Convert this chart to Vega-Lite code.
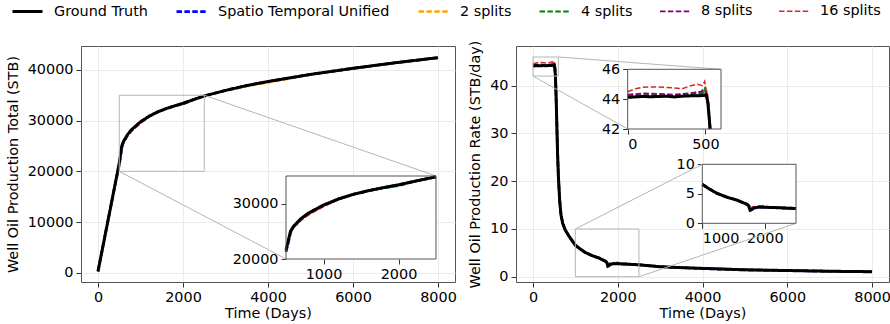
{
"$schema": "https://vega.github.io/schema/vega-lite/v6.json",
"padding": {"left": 4, "top": -5, "right": 0, "bottom": 0},
"config": {
  "font": "DejaVu Sans",
  "view": {"stroke": "#555555", "strokeWidth": 1},
  "axis": {"labelFont": "DejaVu Sans", "titleFont": "DejaVu Sans", "labelFontSize": 14.4, "titleFontSize": 14.4, "titleFontWeight": "normal", "labelColor": "#000000", "titleColor": "#000000", "tickColor": "#333333", "tickSize": 5, "domain": false, "gridColor": "#ebebeb", "labelPadding": 3, "titlePadding": 7},
  "axisX": {"titlePadding": 3},
  "legend": {"orient": "none", "legendX": -70, "legendY": -51, "direction": "horizontal", "labelFont": "DejaVu Sans", "labelFontSize": 14.4, "labelColor": "#000000", "symbolSize": 900, "labelOffset": 10, "columnPadding": 23, "padding": 0, "labelLimit": 400}
},
"datasets": {
  "cum": [
    {"series": "Ground Truth", "day": 0, "value": 300}, {"series": "Ground Truth", "day": 100, "value": 4560}, {"series": "Ground Truth", "day": 200, "value": 8820}, {"series": "Ground Truth", "day": 300, "value": 13080}, {"series": "Ground Truth", "day": 400, "value": 17340}, {"series": "Ground Truth", "day": 500, "value": 21600}, {"series": "Ground Truth", "day": 530, "value": 23300}, {"series": "Ground Truth", "day": 560, "value": 25000}, {"series": "Ground Truth", "day": 600, "value": 25900}, {"series": "Ground Truth", "day": 700, "value": 27300}, {"series": "Ground Truth", "day": 800, "value": 28300}, {"series": "Ground Truth", "day": 1000, "value": 29750}, {"series": "Ground Truth", "day": 1200, "value": 30850}, {"series": "Ground Truth", "day": 1400, "value": 31700}, {"series": "Ground Truth", "day": 1600, "value": 32350}, {"series": "Ground Truth", "day": 1800, "value": 32900}, {"series": "Ground Truth", "day": 2000, "value": 33400}, {"series": "Ground Truth", "day": 2250, "value": 34150}, {"series": "Ground Truth", "day": 2500, "value": 34850}, {"series": "Ground Truth", "day": 3000, "value": 35950}, {"series": "Ground Truth", "day": 3500, "value": 36900}, {"series": "Ground Truth", "day": 4000, "value": 37700}, {"series": "Ground Truth", "day": 5000, "value": 39100}, {"series": "Ground Truth", "day": 6000, "value": 40300}, {"series": "Ground Truth", "day": 7000, "value": 41400}, {"series": "Ground Truth", "day": 8000, "value": 42400},
    {"series": "Spatio Temporal Unified", "day": 0, "value": 300}, {"series": "Spatio Temporal Unified", "day": 100, "value": 4540}, {"series": "Spatio Temporal Unified", "day": 200, "value": 8790}, {"series": "Spatio Temporal Unified", "day": 300, "value": 13040}, {"series": "Spatio Temporal Unified", "day": 400, "value": 17280}, {"series": "Spatio Temporal Unified", "day": 500, "value": 21300}, {"series": "Spatio Temporal Unified", "day": 530, "value": 22900}, {"series": "Spatio Temporal Unified", "day": 560, "value": 24700}, {"series": "Spatio Temporal Unified", "day": 600, "value": 25800}, {"series": "Spatio Temporal Unified", "day": 700, "value": 27250}, {"series": "Spatio Temporal Unified", "day": 800, "value": 28250}, {"series": "Spatio Temporal Unified", "day": 1000, "value": 29720}, {"series": "Spatio Temporal Unified", "day": 1200, "value": 30830}, {"series": "Spatio Temporal Unified", "day": 1400, "value": 31690}, {"series": "Spatio Temporal Unified", "day": 1600, "value": 32340}, {"series": "Spatio Temporal Unified", "day": 1800, "value": 32900}, {"series": "Spatio Temporal Unified", "day": 2000, "value": 33400}, {"series": "Spatio Temporal Unified", "day": 2250, "value": 34150}, {"series": "Spatio Temporal Unified", "day": 2500, "value": 34850}, {"series": "Spatio Temporal Unified", "day": 3000, "value": 35950}, {"series": "Spatio Temporal Unified", "day": 3500, "value": 36900}, {"series": "Spatio Temporal Unified", "day": 4000, "value": 37700}, {"series": "Spatio Temporal Unified", "day": 5000, "value": 39100}, {"series": "Spatio Temporal Unified", "day": 6000, "value": 40300}, {"series": "Spatio Temporal Unified", "day": 7000, "value": 41400}, {"series": "Spatio Temporal Unified", "day": 8000, "value": 42400},
    {"series": "2 splits", "day": 0, "value": 300}, {"series": "2 splits", "day": 100, "value": 4570}, {"series": "2 splits", "day": 200, "value": 8840}, {"series": "2 splits", "day": 300, "value": 13100}, {"series": "2 splits", "day": 400, "value": 17380}, {"series": "2 splits", "day": 500, "value": 21650}, {"series": "2 splits", "day": 530, "value": 23350}, {"series": "2 splits", "day": 560, "value": 25050}, {"series": "2 splits", "day": 600, "value": 25950}, {"series": "2 splits", "day": 700, "value": 27300}, {"series": "2 splits", "day": 800, "value": 28300}, {"series": "2 splits", "day": 1000, "value": 29750}, {"series": "2 splits", "day": 1200, "value": 30850}, {"series": "2 splits", "day": 1400, "value": 31700}, {"series": "2 splits", "day": 1600, "value": 32350}, {"series": "2 splits", "day": 1800, "value": 32900}, {"series": "2 splits", "day": 2000, "value": 33400}, {"series": "2 splits", "day": 2250, "value": 34150}, {"series": "2 splits", "day": 2500, "value": 34850}, {"series": "2 splits", "day": 3000, "value": 35900}, {"series": "2 splits", "day": 3500, "value": 36800}, {"series": "2 splits", "day": 4000, "value": 37500}, {"series": "2 splits", "day": 5000, "value": 39050}, {"series": "2 splits", "day": 6000, "value": 40300}, {"series": "2 splits", "day": 7000, "value": 41400}, {"series": "2 splits", "day": 8000, "value": 42400},
    {"series": "4 splits", "day": 0, "value": 300}, {"series": "4 splits", "day": 100, "value": 4560}, {"series": "4 splits", "day": 200, "value": 8820}, {"series": "4 splits", "day": 300, "value": 13080}, {"series": "4 splits", "day": 400, "value": 17340}, {"series": "4 splits", "day": 500, "value": 21600}, {"series": "4 splits", "day": 530, "value": 23300}, {"series": "4 splits", "day": 560, "value": 25000}, {"series": "4 splits", "day": 600, "value": 25900}, {"series": "4 splits", "day": 700, "value": 27300}, {"series": "4 splits", "day": 800, "value": 28300}, {"series": "4 splits", "day": 1000, "value": 29750}, {"series": "4 splits", "day": 1200, "value": 30850}, {"series": "4 splits", "day": 1400, "value": 31700}, {"series": "4 splits", "day": 1600, "value": 32300}, {"series": "4 splits", "day": 1800, "value": 32800}, {"series": "4 splits", "day": 2000, "value": 33200}, {"series": "4 splits", "day": 2250, "value": 34100}, {"series": "4 splits", "day": 2500, "value": 34850}, {"series": "4 splits", "day": 3000, "value": 35950}, {"series": "4 splits", "day": 3500, "value": 36900}, {"series": "4 splits", "day": 4000, "value": 37700}, {"series": "4 splits", "day": 5000, "value": 39100}, {"series": "4 splits", "day": 6000, "value": 40300}, {"series": "4 splits", "day": 7000, "value": 41400}, {"series": "4 splits", "day": 8000, "value": 42400},
    {"series": "8 splits", "day": 0, "value": 300}, {"series": "8 splits", "day": 100, "value": 4560}, {"series": "8 splits", "day": 200, "value": 8820}, {"series": "8 splits", "day": 300, "value": 13080}, {"series": "8 splits", "day": 400, "value": 17340}, {"series": "8 splits", "day": 500, "value": 21600}, {"series": "8 splits", "day": 530, "value": 23300}, {"series": "8 splits", "day": 560, "value": 24900}, {"series": "8 splits", "day": 600, "value": 25800}, {"series": "8 splits", "day": 700, "value": 27150}, {"series": "8 splits", "day": 800, "value": 28100}, {"series": "8 splits", "day": 1000, "value": 29600}, {"series": "8 splits", "day": 1200, "value": 30800}, {"series": "8 splits", "day": 1400, "value": 31700}, {"series": "8 splits", "day": 1600, "value": 32350}, {"series": "8 splits", "day": 1800, "value": 32900}, {"series": "8 splits", "day": 2000, "value": 33400}, {"series": "8 splits", "day": 2250, "value": 34150}, {"series": "8 splits", "day": 2500, "value": 34850}, {"series": "8 splits", "day": 3000, "value": 35950}, {"series": "8 splits", "day": 3500, "value": 36900}, {"series": "8 splits", "day": 4000, "value": 37700}, {"series": "8 splits", "day": 5000, "value": 39100}, {"series": "8 splits", "day": 6000, "value": 40300}, {"series": "8 splits", "day": 7000, "value": 41400}, {"series": "8 splits", "day": 8000, "value": 42400},
    {"series": "16 splits", "day": 0, "value": 300}, {"series": "16 splits", "day": 100, "value": 4580}, {"series": "16 splits", "day": 200, "value": 8860}, {"series": "16 splits", "day": 300, "value": 13140}, {"series": "16 splits", "day": 400, "value": 17420}, {"series": "16 splits", "day": 500, "value": 21700}, {"series": "16 splits", "day": 530, "value": 23300}, {"series": "16 splits", "day": 560, "value": 24800}, {"series": "16 splits", "day": 600, "value": 25600}, {"series": "16 splits", "day": 700, "value": 26950}, {"series": "16 splits", "day": 800, "value": 27950}, {"series": "16 splits", "day": 1000, "value": 29450}, {"series": "16 splits", "day": 1200, "value": 30700}, {"series": "16 splits", "day": 1400, "value": 31650}, {"series": "16 splits", "day": 1600, "value": 32350}, {"series": "16 splits", "day": 1800, "value": 32950}, {"series": "16 splits", "day": 2000, "value": 33450}, {"series": "16 splits", "day": 2250, "value": 34250}, {"series": "16 splits", "day": 2500, "value": 34900}, {"series": "16 splits", "day": 3000, "value": 36000}, {"series": "16 splits", "day": 3500, "value": 36950}, {"series": "16 splits", "day": 4000, "value": 37750}, {"series": "16 splits", "day": 5000, "value": 39150}, {"series": "16 splits", "day": 6000, "value": 40350}, {"series": "16 splits", "day": 7000, "value": 41450}, {"series": "16 splits", "day": 8000, "value": 42450}
  ],
  "rate": [
    {"series": "Ground Truth", "day": 0, "value": 44.12}, {"series": "Ground Truth", "day": 50, "value": 44.15}, {"series": "Ground Truth", "day": 100, "value": 44.18}, {"series": "Ground Truth", "day": 150, "value": 44.16}, {"series": "Ground Truth", "day": 200, "value": 44.18}, {"series": "Ground Truth", "day": 250, "value": 44.2}, {"series": "Ground Truth", "day": 300, "value": 44.15}, {"series": "Ground Truth", "day": 350, "value": 44.2}, {"series": "Ground Truth", "day": 400, "value": 44.22}, {"series": "Ground Truth", "day": 450, "value": 44.22}, {"series": "Ground Truth", "day": 490, "value": 44.25}, {"series": "Ground Truth", "day": 505, "value": 44.3}, {"series": "Ground Truth", "day": 515, "value": 43.8}, {"series": "Ground Truth", "day": 525, "value": 42.6}, {"series": "Ground Truth", "day": 530, "value": 42.0}, {"series": "Ground Truth", "day": 545, "value": 38}, {"series": "Ground Truth", "day": 560, "value": 33}, {"series": "Ground Truth", "day": 580, "value": 26}, {"series": "Ground Truth", "day": 600, "value": 21}, {"series": "Ground Truth", "day": 630, "value": 16}, {"series": "Ground Truth", "day": 660, "value": 13}, {"series": "Ground Truth", "day": 700, "value": 11.2}, {"series": "Ground Truth", "day": 760, "value": 9.8}, {"series": "Ground Truth", "day": 850, "value": 8.5}, {"series": "Ground Truth", "day": 1000, "value": 6.6}, {"series": "Ground Truth", "day": 1100, "value": 5.9}, {"series": "Ground Truth", "day": 1230, "value": 5.1}, {"series": "Ground Truth", "day": 1400, "value": 4.4}, {"series": "Ground Truth", "day": 1550, "value": 3.95}, {"series": "Ground Truth", "day": 1650, "value": 3.5}, {"series": "Ground Truth", "day": 1720, "value": 3.2}, {"series": "Ground Truth", "day": 1745, "value": 2.9}, {"series": "Ground Truth", "day": 1765, "value": 2.2}, {"series": "Ground Truth", "day": 1790, "value": 2.3}, {"series": "Ground Truth", "day": 1820, "value": 2.55}, {"series": "Ground Truth", "day": 1900, "value": 2.75}, {"series": "Ground Truth", "day": 2000, "value": 2.72}, {"series": "Ground Truth", "day": 2200, "value": 2.65}, {"series": "Ground Truth", "day": 2500, "value": 2.5}, {"series": "Ground Truth", "day": 3000, "value": 2.1}, {"series": "Ground Truth", "day": 3500, "value": 1.9}, {"series": "Ground Truth", "day": 4000, "value": 1.75}, {"series": "Ground Truth", "day": 5000, "value": 1.45}, {"series": "Ground Truth", "day": 6000, "value": 1.3}, {"series": "Ground Truth", "day": 7000, "value": 1.15}, {"series": "Ground Truth", "day": 8000, "value": 1.05},
    {"series": "Spatio Temporal Unified", "day": 0, "value": 44.2}, {"series": "Spatio Temporal Unified", "day": 100, "value": 44.22}, {"series": "Spatio Temporal Unified", "day": 200, "value": 44.2}, {"series": "Spatio Temporal Unified", "day": 300, "value": 44.2}, {"series": "Spatio Temporal Unified", "day": 400, "value": 44.25}, {"series": "Spatio Temporal Unified", "day": 470, "value": 44.35}, {"series": "Spatio Temporal Unified", "day": 490, "value": 44.5}, {"series": "Spatio Temporal Unified", "day": 505, "value": 44.3}, {"series": "Spatio Temporal Unified", "day": 518, "value": 43.7}, {"series": "Spatio Temporal Unified", "day": 530, "value": 42.0}, {"series": "Spatio Temporal Unified", "day": 545, "value": 38.2}, {"series": "Spatio Temporal Unified", "day": 560, "value": 33.2}, {"series": "Spatio Temporal Unified", "day": 580, "value": 26.2}, {"series": "Spatio Temporal Unified", "day": 600, "value": 21.2}, {"series": "Spatio Temporal Unified", "day": 630, "value": 16.1}, {"series": "Spatio Temporal Unified", "day": 660, "value": 13.1}, {"series": "Spatio Temporal Unified", "day": 700, "value": 11.3}, {"series": "Spatio Temporal Unified", "day": 760, "value": 9.9}, {"series": "Spatio Temporal Unified", "day": 850, "value": 8.5}, {"series": "Spatio Temporal Unified", "day": 1000, "value": 6.6}, {"series": "Spatio Temporal Unified", "day": 1100, "value": 5.9}, {"series": "Spatio Temporal Unified", "day": 1230, "value": 5.1}, {"series": "Spatio Temporal Unified", "day": 1400, "value": 4.4}, {"series": "Spatio Temporal Unified", "day": 1550, "value": 3.95}, {"series": "Spatio Temporal Unified", "day": 1650, "value": 3.5}, {"series": "Spatio Temporal Unified", "day": 1720, "value": 3.2}, {"series": "Spatio Temporal Unified", "day": 1745, "value": 2.95}, {"series": "Spatio Temporal Unified", "day": 1765, "value": 2.3}, {"series": "Spatio Temporal Unified", "day": 1790, "value": 2.35}, {"series": "Spatio Temporal Unified", "day": 1820, "value": 2.6}, {"series": "Spatio Temporal Unified", "day": 1900, "value": 2.75}, {"series": "Spatio Temporal Unified", "day": 2000, "value": 2.72}, {"series": "Spatio Temporal Unified", "day": 2200, "value": 2.65}, {"series": "Spatio Temporal Unified", "day": 2500, "value": 2.5}, {"series": "Spatio Temporal Unified", "day": 3000, "value": 2.1}, {"series": "Spatio Temporal Unified", "day": 3500, "value": 1.9}, {"series": "Spatio Temporal Unified", "day": 4000, "value": 1.75}, {"series": "Spatio Temporal Unified", "day": 5000, "value": 1.45}, {"series": "Spatio Temporal Unified", "day": 6000, "value": 1.3}, {"series": "Spatio Temporal Unified", "day": 7000, "value": 1.15}, {"series": "Spatio Temporal Unified", "day": 8000, "value": 1.05},
    {"series": "2 splits", "day": 0, "value": 44.25}, {"series": "2 splits", "day": 100, "value": 44.3}, {"series": "2 splits", "day": 200, "value": 44.3}, {"series": "2 splits", "day": 300, "value": 44.28}, {"series": "2 splits", "day": 400, "value": 44.35}, {"series": "2 splits", "day": 480, "value": 44.5}, {"series": "2 splits", "day": 500, "value": 44.55}, {"series": "2 splits", "day": 510, "value": 44.3}, {"series": "2 splits", "day": 520, "value": 43.6}, {"series": "2 splits", "day": 530, "value": 42.0}, {"series": "2 splits", "day": 545, "value": 38.1}, {"series": "2 splits", "day": 560, "value": 33.1}, {"series": "2 splits", "day": 580, "value": 26.1}, {"series": "2 splits", "day": 600, "value": 21.1}, {"series": "2 splits", "day": 630, "value": 16.05}, {"series": "2 splits", "day": 660, "value": 13.05}, {"series": "2 splits", "day": 700, "value": 11.25}, {"series": "2 splits", "day": 760, "value": 9.85}, {"series": "2 splits", "day": 850, "value": 8.55}, {"series": "2 splits", "day": 1000, "value": 6.65}, {"series": "2 splits", "day": 1100, "value": 5.95}, {"series": "2 splits", "day": 1230, "value": 5.15}, {"series": "2 splits", "day": 1400, "value": 4.45}, {"series": "2 splits", "day": 1550, "value": 4.0}, {"series": "2 splits", "day": 1650, "value": 3.55}, {"series": "2 splits", "day": 1720, "value": 3.25}, {"series": "2 splits", "day": 1745, "value": 3.0}, {"series": "2 splits", "day": 1765, "value": 2.6}, {"series": "2 splits", "day": 1790, "value": 2.6}, {"series": "2 splits", "day": 1820, "value": 2.65}, {"series": "2 splits", "day": 1900, "value": 2.75}, {"series": "2 splits", "day": 2000, "value": 2.75}, {"series": "2 splits", "day": 2200, "value": 2.65}, {"series": "2 splits", "day": 2500, "value": 2.5}, {"series": "2 splits", "day": 3000, "value": 2.1}, {"series": "2 splits", "day": 3500, "value": 1.9}, {"series": "2 splits", "day": 4000, "value": 1.75}, {"series": "2 splits", "day": 5000, "value": 1.45}, {"series": "2 splits", "day": 6000, "value": 1.3}, {"series": "2 splits", "day": 7000, "value": 1.15}, {"series": "2 splits", "day": 8000, "value": 1.05},
    {"series": "4 splits", "day": 0, "value": 44.2}, {"series": "4 splits", "day": 100, "value": 44.26}, {"series": "4 splits", "day": 200, "value": 44.25}, {"series": "4 splits", "day": 300, "value": 44.22}, {"series": "4 splits", "day": 400, "value": 44.3}, {"series": "4 splits", "day": 480, "value": 44.45}, {"series": "4 splits", "day": 495, "value": 44.7}, {"series": "4 splits", "day": 505, "value": 44.4}, {"series": "4 splits", "day": 518, "value": 43.6}, {"series": "4 splits", "day": 529, "value": 42.0}, {"series": "4 splits", "day": 545, "value": 38}, {"series": "4 splits", "day": 560, "value": 33}, {"series": "4 splits", "day": 580, "value": 26}, {"series": "4 splits", "day": 600, "value": 21}, {"series": "4 splits", "day": 630, "value": 16}, {"series": "4 splits", "day": 660, "value": 13}, {"series": "4 splits", "day": 700, "value": 11.2}, {"series": "4 splits", "day": 760, "value": 9.8}, {"series": "4 splits", "day": 850, "value": 8.5}, {"series": "4 splits", "day": 1000, "value": 6.6}, {"series": "4 splits", "day": 1100, "value": 5.9}, {"series": "4 splits", "day": 1230, "value": 5.1}, {"series": "4 splits", "day": 1400, "value": 4.4}, {"series": "4 splits", "day": 1550, "value": 3.95}, {"series": "4 splits", "day": 1650, "value": 3.5}, {"series": "4 splits", "day": 1720, "value": 3.2}, {"series": "4 splits", "day": 1745, "value": 2.95}, {"series": "4 splits", "day": 1765, "value": 2.5}, {"series": "4 splits", "day": 1790, "value": 2.5}, {"series": "4 splits", "day": 1820, "value": 2.6}, {"series": "4 splits", "day": 1900, "value": 2.8}, {"series": "4 splits", "day": 2000, "value": 2.98}, {"series": "4 splits", "day": 2050, "value": 2.7}, {"series": "4 splits", "day": 2200, "value": 2.65}, {"series": "4 splits", "day": 2500, "value": 2.5}, {"series": "4 splits", "day": 3000, "value": 2.1}, {"series": "4 splits", "day": 3500, "value": 1.9}, {"series": "4 splits", "day": 4000, "value": 1.75}, {"series": "4 splits", "day": 5000, "value": 1.45}, {"series": "4 splits", "day": 6000, "value": 1.3}, {"series": "4 splits", "day": 7000, "value": 1.15}, {"series": "4 splits", "day": 8000, "value": 1.05},
    {"series": "8 splits", "day": 0, "value": 44.3}, {"series": "8 splits", "day": 100, "value": 44.38}, {"series": "8 splits", "day": 200, "value": 44.35}, {"series": "8 splits", "day": 300, "value": 44.3}, {"series": "8 splits", "day": 400, "value": 44.4}, {"series": "8 splits", "day": 470, "value": 44.5}, {"series": "8 splits", "day": 490, "value": 44.65}, {"series": "8 splits", "day": 505, "value": 44.4}, {"series": "8 splits", "day": 518, "value": 43.5}, {"series": "8 splits", "day": 529, "value": 42.0}, {"series": "8 splits", "day": 545, "value": 38}, {"series": "8 splits", "day": 560, "value": 33}, {"series": "8 splits", "day": 580, "value": 26}, {"series": "8 splits", "day": 600, "value": 21}, {"series": "8 splits", "day": 630, "value": 16}, {"series": "8 splits", "day": 660, "value": 13}, {"series": "8 splits", "day": 700, "value": 11.2}, {"series": "8 splits", "day": 760, "value": 9.8}, {"series": "8 splits", "day": 850, "value": 8.5}, {"series": "8 splits", "day": 1000, "value": 6.6}, {"series": "8 splits", "day": 1100, "value": 5.9}, {"series": "8 splits", "day": 1230, "value": 5.1}, {"series": "8 splits", "day": 1400, "value": 4.4}, {"series": "8 splits", "day": 1550, "value": 3.95}, {"series": "8 splits", "day": 1650, "value": 3.5}, {"series": "8 splits", "day": 1720, "value": 3.2}, {"series": "8 splits", "day": 1745, "value": 2.95}, {"series": "8 splits", "day": 1765, "value": 2.85}, {"series": "8 splits", "day": 1790, "value": 2.85}, {"series": "8 splits", "day": 1820, "value": 2.75}, {"series": "8 splits", "day": 1900, "value": 2.75}, {"series": "8 splits", "day": 2000, "value": 2.72}, {"series": "8 splits", "day": 2200, "value": 2.65}, {"series": "8 splits", "day": 2500, "value": 2.5}, {"series": "8 splits", "day": 3000, "value": 2.1}, {"series": "8 splits", "day": 3500, "value": 1.9}, {"series": "8 splits", "day": 4000, "value": 1.75}, {"series": "8 splits", "day": 5000, "value": 1.45}, {"series": "8 splits", "day": 6000, "value": 1.3}, {"series": "8 splits", "day": 7000, "value": 1.15}, {"series": "8 splits", "day": 8000, "value": 1.05},
    {"series": "16 splits", "day": 0, "value": 44.5}, {"series": "16 splits", "day": 50, "value": 44.7}, {"series": "16 splits", "day": 100, "value": 44.8}, {"series": "16 splits", "day": 200, "value": 44.82}, {"series": "16 splits", "day": 300, "value": 44.75}, {"series": "16 splits", "day": 350, "value": 44.7}, {"series": "16 splits", "day": 400, "value": 44.88}, {"series": "16 splits", "day": 450, "value": 45.0}, {"series": "16 splits", "day": 480, "value": 44.9}, {"series": "16 splits", "day": 495, "value": 45.2}, {"series": "16 splits", "day": 505, "value": 44.6}, {"series": "16 splits", "day": 512, "value": 44.5}, {"series": "16 splits", "day": 520, "value": 43.5}, {"series": "16 splits", "day": 527, "value": 42.0}, {"series": "16 splits", "day": 545, "value": 38.3}, {"series": "16 splits", "day": 560, "value": 33.3}, {"series": "16 splits", "day": 580, "value": 26.3}, {"series": "16 splits", "day": 600, "value": 21.2}, {"series": "16 splits", "day": 630, "value": 16.1}, {"series": "16 splits", "day": 660, "value": 13.1}, {"series": "16 splits", "day": 700, "value": 11.3}, {"series": "16 splits", "day": 760, "value": 9.9}, {"series": "16 splits", "day": 850, "value": 8.6}, {"series": "16 splits", "day": 1000, "value": 6.7}, {"series": "16 splits", "day": 1100, "value": 5.95}, {"series": "16 splits", "day": 1230, "value": 5.15}, {"series": "16 splits", "day": 1400, "value": 4.45}, {"series": "16 splits", "day": 1550, "value": 4.0}, {"series": "16 splits", "day": 1650, "value": 3.55}, {"series": "16 splits", "day": 1720, "value": 3.25}, {"series": "16 splits", "day": 1745, "value": 3.0}, {"series": "16 splits", "day": 1765, "value": 2.7}, {"series": "16 splits", "day": 1790, "value": 2.7}, {"series": "16 splits", "day": 1820, "value": 2.7}, {"series": "16 splits", "day": 1900, "value": 2.78}, {"series": "16 splits", "day": 2000, "value": 2.75}, {"series": "16 splits", "day": 2200, "value": 2.68}, {"series": "16 splits", "day": 2500, "value": 2.52}, {"series": "16 splits", "day": 3000, "value": 2.12}, {"series": "16 splits", "day": 3500, "value": 1.92}, {"series": "16 splits", "day": 4000, "value": 1.77}, {"series": "16 splits", "day": 5000, "value": 1.47}, {"series": "16 splits", "day": 6000, "value": 1.32}, {"series": "16 splits", "day": 7000, "value": 1.17}, {"series": "16 splits", "day": 8000, "value": 1.07}
  ],
  "boxL": [{"x1": 500, "x2": 2500, "y1": 20000, "y2": 35000}],
  "connL": [{"x1": 500, "y1": 20000, "x2": 4424, "y2": 2733}, {"x1": 2500, "y1": 35000, "x2": 7953, "y2": 19086}],
  "boxR1": [{"x1": 0, "x2": 600, "y1": 42, "y2": 46}],
  "boxR2": [{"x1": 1000, "x2": 2500, "y1": 0, "y2": 10}],
  "connR": [{"x1": 0, "y1": 42, "x2": 2235, "y2": 30.93}, {"x1": 600, "y1": 46, "x2": 4436, "y2": 43.42}, {"x1": 1000, "y1": 10, "x2": 3995, "y2": 23.54}, {"x1": 2500, "y1": 0, "x2": 6206, "y2": 11.19}]
},
"spacing": 10,
"hconcat": [
{
  "width": 374, "height": 236,
  "layer": [
    {"layer": [
      {"data": {"name": "cum"}, "transform": [{"filter": "datum.series !== 'Ground Truth'"}], "mark": {"type": "line"},
       "encoding": {
        "x": {"field": "day", "type": "quantitative", "scale": {"domain": [-400, 8400], "nice": false, "zero": false}, "axis": {"orient": "bottom", "values": [0, 2000, 4000, 6000, 8000], "format": "d", "title": "Time (Days)", "grid": true}},
        "y": {"field": "value", "type": "quantitative", "scale": {"domain": [-1800, 44700], "nice": false, "zero": false}, "axis": {"orient": "left", "values": [0, 10000, 20000, 30000, 40000], "format": "d", "title": "Well Oil Production Total (STB)", "grid": true}},
        "color": {"field": "series", "type": "nominal", "scale": {"domain": ["Ground Truth", "Spatio Temporal Unified", "2 splits", "4 splits", "8 splits", "16 splits"], "range": ["#000000", "#0000ff", "#ffa500", "#008000", "#800080", "#d62728"]}, "legend": {"title": null}},
        "strokeDash": {"field": "series", "type": "nominal", "scale": {"domain": ["Ground Truth", "Spatio Temporal Unified", "2 splits", "4 splits", "8 splits", "16 splits"], "range": [[1, 0], [5.5, 2.4], [5.5, 2.4], [5.5, 2.4], [5.5, 2.4], [5.5, 2.4]]}, "legend": {"title": null}},
        "strokeWidth": {"field": "series", "type": "nominal", "scale": {"domain": ["Ground Truth", "Spatio Temporal Unified", "2 splits", "4 splits", "8 splits", "16 splits"], "range": [3, 1.5, 1.5, 1.5, 1.5, 1.5]}, "legend": {"title": null}}
       }},
      {"data": {"name": "cum"}, "transform": [{"filter": "datum.series === 'Ground Truth'"}], "mark": {"type": "line"},
       "encoding": {
        "x": {"field": "day", "type": "quantitative", "scale": {"domain": [-400, 8400], "nice": false, "zero": false}},
        "y": {"field": "value", "type": "quantitative", "scale": {"domain": [-1800, 44700], "nice": false, "zero": false}},
        "color": {"field": "series", "type": "nominal", "scale": {"domain": ["Ground Truth", "Spatio Temporal Unified", "2 splits", "4 splits", "8 splits", "16 splits"], "range": ["#000000", "#0000ff", "#ffa500", "#008000", "#800080", "#d62728"]}, "legend": {"title": null}},
        "strokeDash": {"field": "series", "type": "nominal", "scale": {"domain": ["Ground Truth", "Spatio Temporal Unified", "2 splits", "4 splits", "8 splits", "16 splits"], "range": [[1, 0], [5.5, 2.4], [5.5, 2.4], [5.5, 2.4], [5.5, 2.4], [5.5, 2.4]]}, "legend": {"title": null}},
        "strokeWidth": {"field": "series", "type": "nominal", "scale": {"domain": ["Ground Truth", "Spatio Temporal Unified", "2 splits", "4 splits", "8 splits", "16 splits"], "range": [3, 1.5, 1.5, 1.5, 1.5, 1.5]}, "legend": {"title": null}}
       }},
      {"data": {"name": "boxL"}, "mark": {"type": "rect", "filled": false, "stroke": "#b5b5b5", "strokeWidth": 1},
       "encoding": {
        "x": {"field": "x1", "type": "quantitative", "scale": {"domain": [-400, 8400], "nice": false, "zero": false}},
        "x2": {"field": "x2"},
        "y": {"field": "y1", "type": "quantitative", "scale": {"domain": [-1800, 44700], "nice": false, "zero": false}},
        "y2": {"field": "y2"}
       }},
      {"data": {"name": "connL"}, "mark": {"type": "rule", "color": "#b5b5b5", "strokeWidth": 1},
       "encoding": {
        "x": {"field": "x1", "type": "quantitative", "scale": {"domain": [-400, 8400], "nice": false, "zero": false}},
        "x2": {"field": "x2"},
        "y": {"field": "y1", "type": "quantitative", "scale": {"domain": [-1800, 44700], "nice": false, "zero": false}},
        "y2": {"field": "y2"}
       }}
    ]},
    {"layer": [
      {"data": {"name": "boxL"}, "mark": {"type": "rect", "fill": "#ffffff", "strokeWidth": 0},
       "encoding": {
        "x": {"field": "x1", "type": "quantitative", "scale": {"domain": [500, 2500], "range": [205, 355], "nice": false, "zero": false}, "axis": {"orient": "bottom", "offset": -23, "values": [1000, 2000], "format": "d", "title": null, "grid": false}},
        "x2": {"field": "x2"},
        "y": {"field": "y1", "type": "quantitative", "scale": {"domain": [20000, 35000], "range": [213, 130], "nice": false, "zero": false}, "axis": {"orient": "left", "offset": -205, "values": [20000, 30000], "format": "d", "title": null, "grid": false}},
        "y2": {"field": "y2"}
       }},
      {"data": {"name": "cum"}, "transform": [{"filter": "datum.series !== 'Ground Truth' && datum.day >= 500 && datum.day <= 2500"}], "mark": {"type": "line"},
       "encoding": {
        "x": {"field": "day", "type": "quantitative", "scale": {"domain": [500, 2500], "range": [205, 355], "nice": false, "zero": false}},
        "y": {"field": "value", "type": "quantitative", "scale": {"domain": [20000, 35000], "range": [213, 130], "nice": false, "zero": false}},
        "color": {"field": "series", "type": "nominal", "scale": {"domain": ["Ground Truth", "Spatio Temporal Unified", "2 splits", "4 splits", "8 splits", "16 splits"], "range": ["#000000", "#0000ff", "#ffa500", "#008000", "#800080", "#d62728"]}, "legend": {"title": null}},
        "strokeDash": {"field": "series", "type": "nominal", "scale": {"domain": ["Ground Truth", "Spatio Temporal Unified", "2 splits", "4 splits", "8 splits", "16 splits"], "range": [[1, 0], [5.5, 2.4], [5.5, 2.4], [5.5, 2.4], [5.5, 2.4], [5.5, 2.4]]}, "legend": {"title": null}},
        "strokeWidth": {"field": "series", "type": "nominal", "scale": {"domain": ["Ground Truth", "Spatio Temporal Unified", "2 splits", "4 splits", "8 splits", "16 splits"], "range": [3, 1.5, 1.5, 1.5, 1.5, 1.5]}, "legend": {"title": null}}
       }},
      {"data": {"name": "cum"}, "transform": [{"filter": "datum.series === 'Ground Truth' && datum.day >= 500 && datum.day <= 2500"}], "mark": {"type": "line"},
       "encoding": {
        "x": {"field": "day", "type": "quantitative", "scale": {"domain": [500, 2500], "range": [205, 355], "nice": false, "zero": false}},
        "y": {"field": "value", "type": "quantitative", "scale": {"domain": [20000, 35000], "range": [213, 130], "nice": false, "zero": false}},
        "color": {"field": "series", "type": "nominal", "scale": {"domain": ["Ground Truth", "Spatio Temporal Unified", "2 splits", "4 splits", "8 splits", "16 splits"], "range": ["#000000", "#0000ff", "#ffa500", "#008000", "#800080", "#d62728"]}, "legend": {"title": null}},
        "strokeDash": {"field": "series", "type": "nominal", "scale": {"domain": ["Ground Truth", "Spatio Temporal Unified", "2 splits", "4 splits", "8 splits", "16 splits"], "range": [[1, 0], [5.5, 2.4], [5.5, 2.4], [5.5, 2.4], [5.5, 2.4], [5.5, 2.4]]}, "legend": {"title": null}},
        "strokeWidth": {"field": "series", "type": "nominal", "scale": {"domain": ["Ground Truth", "Spatio Temporal Unified", "2 splits", "4 splits", "8 splits", "16 splits"], "range": [3, 1.5, 1.5, 1.5, 1.5, 1.5]}, "legend": {"title": null}}
       }},
      {"data": {"name": "boxL"}, "mark": {"type": "rect", "filled": false, "stroke": "#555555", "strokeWidth": 1},
       "encoding": {
        "x": {"field": "x1", "type": "quantitative", "scale": {"domain": [500, 2500], "range": [205, 355], "nice": false, "zero": false}},
        "x2": {"field": "x2"},
        "y": {"field": "y1", "type": "quantitative", "scale": {"domain": [20000, 35000], "range": [213, 130], "nice": false, "zero": false}},
        "y2": {"field": "y2"}
       }}
    ]}
  ],
  "resolve": {"scale": {"x": "independent", "y": "independent"}, "axis": {"x": "independent", "y": "independent"}}
},
{
  "width": 373, "height": 236,
  "layer": [
    {"layer": [
      {"data": {"name": "rate"}, "transform": [{"filter": "datum.series !== 'Ground Truth'"}], "mark": {"type": "line"},
       "encoding": {
        "x": {"field": "day", "type": "quantitative", "scale": {"domain": [-400, 8400], "nice": false, "zero": false}, "axis": {"orient": "bottom", "values": [0, 2000, 4000, 6000, 8000], "format": "d", "title": "Time (Days)", "grid": true}},
        "y": {"field": "value", "type": "quantitative", "scale": {"domain": [-1.1, 48.3], "nice": false, "zero": false}, "axis": {"orient": "left", "values": [0, 10, 20, 30, 40], "format": "d", "title": "Well Oil Production Rate (STB/day)", "grid": true}},
        "color": {"field": "series", "type": "nominal", "scale": {"domain": ["Ground Truth", "Spatio Temporal Unified", "2 splits", "4 splits", "8 splits", "16 splits"], "range": ["#000000", "#0000ff", "#ffa500", "#008000", "#800080", "#d62728"]}, "legend": {"title": null}},
        "strokeDash": {"field": "series", "type": "nominal", "scale": {"domain": ["Ground Truth", "Spatio Temporal Unified", "2 splits", "4 splits", "8 splits", "16 splits"], "range": [[1, 0], [5.5, 2.4], [5.5, 2.4], [5.5, 2.4], [5.5, 2.4], [5.5, 2.4]]}, "legend": {"title": null}},
        "strokeWidth": {"field": "series", "type": "nominal", "scale": {"domain": ["Ground Truth", "Spatio Temporal Unified", "2 splits", "4 splits", "8 splits", "16 splits"], "range": [3, 1.5, 1.5, 1.5, 1.5, 1.5]}, "legend": {"title": null}}
       }},
      {"data": {"name": "rate"}, "transform": [{"filter": "datum.series === 'Ground Truth'"}], "mark": {"type": "line"},
       "encoding": {
        "x": {"field": "day", "type": "quantitative", "scale": {"domain": [-400, 8400], "nice": false, "zero": false}},
        "y": {"field": "value", "type": "quantitative", "scale": {"domain": [-1.1, 48.3], "nice": false, "zero": false}},
        "color": {"field": "series", "type": "nominal", "scale": {"domain": ["Ground Truth", "Spatio Temporal Unified", "2 splits", "4 splits", "8 splits", "16 splits"], "range": ["#000000", "#0000ff", "#ffa500", "#008000", "#800080", "#d62728"]}, "legend": {"title": null}},
        "strokeDash": {"field": "series", "type": "nominal", "scale": {"domain": ["Ground Truth", "Spatio Temporal Unified", "2 splits", "4 splits", "8 splits", "16 splits"], "range": [[1, 0], [5.5, 2.4], [5.5, 2.4], [5.5, 2.4], [5.5, 2.4], [5.5, 2.4]]}, "legend": {"title": null}},
        "strokeWidth": {"field": "series", "type": "nominal", "scale": {"domain": ["Ground Truth", "Spatio Temporal Unified", "2 splits", "4 splits", "8 splits", "16 splits"], "range": [3, 1.5, 1.5, 1.5, 1.5, 1.5]}, "legend": {"title": null}}
       }},
      {"data": {"name": "boxR1"}, "mark": {"type": "rect", "filled": false, "stroke": "#b5b5b5", "strokeWidth": 1},
       "encoding": {
        "x": {"field": "x1", "type": "quantitative", "scale": {"domain": [-400, 8400], "nice": false, "zero": false}},
        "x2": {"field": "x2"},
        "y": {"field": "y1", "type": "quantitative", "scale": {"domain": [-1.1, 48.3], "nice": false, "zero": false}},
        "y2": {"field": "y2"}
       }},
      {"data": {"name": "boxR2"}, "mark": {"type": "rect", "filled": false, "stroke": "#b5b5b5", "strokeWidth": 1},
       "encoding": {
        "x": {"field": "x1", "type": "quantitative", "scale": {"domain": [-400, 8400], "nice": false, "zero": false}},
        "x2": {"field": "x2"},
        "y": {"field": "y1", "type": "quantitative", "scale": {"domain": [-1.1, 48.3], "nice": false, "zero": false}},
        "y2": {"field": "y2"}
       }},
      {"data": {"name": "connR"}, "mark": {"type": "rule", "color": "#b5b5b5", "strokeWidth": 1},
       "encoding": {
        "x": {"field": "x1", "type": "quantitative", "scale": {"domain": [-400, 8400], "nice": false, "zero": false}},
        "x2": {"field": "x2"},
        "y": {"field": "y1", "type": "quantitative", "scale": {"domain": [-1.1, 48.3], "nice": false, "zero": false}},
        "y2": {"field": "y2"}
       }}
    ]},
    {"layer": [
      {"data": {"name": "boxR1"}, "mark": {"type": "rect", "fill": "#ffffff", "strokeWidth": 0},
       "encoding": {
        "x": {"field": "x1", "type": "quantitative", "scale": {"domain": [0, 600], "range": [111.7, 205], "nice": false, "zero": false}, "axis": {"orient": "bottom", "offset": -153, "values": [0, 500], "format": "d", "title": null, "grid": false}},
        "x2": {"field": "x2"},
        "y": {"field": "y1", "type": "quantitative", "scale": {"domain": [42, 46], "range": [83, 23.3], "nice": false, "zero": false}, "axis": {"orient": "left", "offset": -111.7, "values": [42, 44, 46], "format": "d", "title": null, "grid": false}},
        "y2": {"field": "y2"}
       }},
      {"data": {"name": "rate"}, "transform": [{"filter": "datum.series !== 'Ground Truth' && datum.day <= 600 && datum.value >= 42"}], "mark": {"type": "line"},
       "encoding": {
        "x": {"field": "day", "type": "quantitative", "scale": {"domain": [0, 600], "range": [111.7, 205], "nice": false, "zero": false}},
        "y": {"field": "value", "type": "quantitative", "scale": {"domain": [42, 46], "range": [83, 23.3], "nice": false, "zero": false}},
        "color": {"field": "series", "type": "nominal", "scale": {"domain": ["Ground Truth", "Spatio Temporal Unified", "2 splits", "4 splits", "8 splits", "16 splits"], "range": ["#000000", "#0000ff", "#ffa500", "#008000", "#800080", "#d62728"]}, "legend": {"title": null}},
        "strokeDash": {"field": "series", "type": "nominal", "scale": {"domain": ["Ground Truth", "Spatio Temporal Unified", "2 splits", "4 splits", "8 splits", "16 splits"], "range": [[1, 0], [5.5, 2.4], [5.5, 2.4], [5.5, 2.4], [5.5, 2.4], [5.5, 2.4]]}, "legend": {"title": null}},
        "strokeWidth": {"field": "series", "type": "nominal", "scale": {"domain": ["Ground Truth", "Spatio Temporal Unified", "2 splits", "4 splits", "8 splits", "16 splits"], "range": [3, 1.5, 1.5, 1.5, 1.5, 1.5]}, "legend": {"title": null}}
       }},
      {"data": {"name": "rate"}, "transform": [{"filter": "datum.series === 'Ground Truth' && datum.day <= 600 && datum.value >= 42"}], "mark": {"type": "line"},
       "encoding": {
        "x": {"field": "day", "type": "quantitative", "scale": {"domain": [0, 600], "range": [111.7, 205], "nice": false, "zero": false}},
        "y": {"field": "value", "type": "quantitative", "scale": {"domain": [42, 46], "range": [83, 23.3], "nice": false, "zero": false}},
        "color": {"field": "series", "type": "nominal", "scale": {"domain": ["Ground Truth", "Spatio Temporal Unified", "2 splits", "4 splits", "8 splits", "16 splits"], "range": ["#000000", "#0000ff", "#ffa500", "#008000", "#800080", "#d62728"]}, "legend": {"title": null}},
        "strokeDash": {"field": "series", "type": "nominal", "scale": {"domain": ["Ground Truth", "Spatio Temporal Unified", "2 splits", "4 splits", "8 splits", "16 splits"], "range": [[1, 0], [5.5, 2.4], [5.5, 2.4], [5.5, 2.4], [5.5, 2.4], [5.5, 2.4]]}, "legend": {"title": null}},
        "strokeWidth": {"field": "series", "type": "nominal", "scale": {"domain": ["Ground Truth", "Spatio Temporal Unified", "2 splits", "4 splits", "8 splits", "16 splits"], "range": [3, 1.5, 1.5, 1.5, 1.5, 1.5]}, "legend": {"title": null}}
       }},
      {"data": {"name": "boxR1"}, "mark": {"type": "rect", "filled": false, "stroke": "#555555", "strokeWidth": 1},
       "encoding": {
        "x": {"field": "x1", "type": "quantitative", "scale": {"domain": [0, 600], "range": [111.7, 205], "nice": false, "zero": false}},
        "x2": {"field": "x2"},
        "y": {"field": "y1", "type": "quantitative", "scale": {"domain": [42, 46], "range": [83, 23.3], "nice": false, "zero": false}},
        "y2": {"field": "y2"}
       }}
    ]},
    {"layer": [
      {"data": {"name": "boxR2"}, "mark": {"type": "rect", "fill": "#ffffff", "strokeWidth": 0},
       "encoding": {
        "x": {"field": "x1", "type": "quantitative", "scale": {"domain": [1000, 2500], "range": [186.3, 280], "nice": false, "zero": false}, "axis": {"orient": "bottom", "offset": -58.7, "values": [1000, 2000], "format": "d", "title": null, "grid": false}},
        "x2": {"field": "x2"},
        "y": {"field": "y1", "type": "quantitative", "scale": {"domain": [0, 10], "range": [177.3, 118.3], "nice": false, "zero": false}, "axis": {"orient": "left", "offset": -186.3, "values": [0, 5, 10], "format": "d", "title": null, "grid": false}},
        "y2": {"field": "y2"}
       }},
      {"data": {"name": "rate"}, "transform": [{"filter": "datum.series !== 'Ground Truth' && datum.day >= 1000 && datum.day <= 2500"}], "mark": {"type": "line"},
       "encoding": {
        "x": {"field": "day", "type": "quantitative", "scale": {"domain": [1000, 2500], "range": [186.3, 280], "nice": false, "zero": false}},
        "y": {"field": "value", "type": "quantitative", "scale": {"domain": [0, 10], "range": [177.3, 118.3], "nice": false, "zero": false}},
        "color": {"field": "series", "type": "nominal", "scale": {"domain": ["Ground Truth", "Spatio Temporal Unified", "2 splits", "4 splits", "8 splits", "16 splits"], "range": ["#000000", "#0000ff", "#ffa500", "#008000", "#800080", "#d62728"]}, "legend": {"title": null}},
        "strokeDash": {"field": "series", "type": "nominal", "scale": {"domain": ["Ground Truth", "Spatio Temporal Unified", "2 splits", "4 splits", "8 splits", "16 splits"], "range": [[1, 0], [5.5, 2.4], [5.5, 2.4], [5.5, 2.4], [5.5, 2.4], [5.5, 2.4]]}, "legend": {"title": null}},
        "strokeWidth": {"field": "series", "type": "nominal", "scale": {"domain": ["Ground Truth", "Spatio Temporal Unified", "2 splits", "4 splits", "8 splits", "16 splits"], "range": [3, 1.5, 1.5, 1.5, 1.5, 1.5]}, "legend": {"title": null}}
       }},
      {"data": {"name": "rate"}, "transform": [{"filter": "datum.series === 'Ground Truth' && datum.day >= 1000 && datum.day <= 2500"}], "mark": {"type": "line"},
       "encoding": {
        "x": {"field": "day", "type": "quantitative", "scale": {"domain": [1000, 2500], "range": [186.3, 280], "nice": false, "zero": false}},
        "y": {"field": "value", "type": "quantitative", "scale": {"domain": [0, 10], "range": [177.3, 118.3], "nice": false, "zero": false}},
        "color": {"field": "series", "type": "nominal", "scale": {"domain": ["Ground Truth", "Spatio Temporal Unified", "2 splits", "4 splits", "8 splits", "16 splits"], "range": ["#000000", "#0000ff", "#ffa500", "#008000", "#800080", "#d62728"]}, "legend": {"title": null}},
        "strokeDash": {"field": "series", "type": "nominal", "scale": {"domain": ["Ground Truth", "Spatio Temporal Unified", "2 splits", "4 splits", "8 splits", "16 splits"], "range": [[1, 0], [5.5, 2.4], [5.5, 2.4], [5.5, 2.4], [5.5, 2.4], [5.5, 2.4]]}, "legend": {"title": null}},
        "strokeWidth": {"field": "series", "type": "nominal", "scale": {"domain": ["Ground Truth", "Spatio Temporal Unified", "2 splits", "4 splits", "8 splits", "16 splits"], "range": [3, 1.5, 1.5, 1.5, 1.5, 1.5]}, "legend": {"title": null}}
       }},
      {"data": {"name": "boxR2"}, "mark": {"type": "rect", "filled": false, "stroke": "#555555", "strokeWidth": 1},
       "encoding": {
        "x": {"field": "x1", "type": "quantitative", "scale": {"domain": [1000, 2500], "range": [186.3, 280], "nice": false, "zero": false}},
        "x2": {"field": "x2"},
        "y": {"field": "y1", "type": "quantitative", "scale": {"domain": [0, 10], "range": [177.3, 118.3], "nice": false, "zero": false}},
        "y2": {"field": "y2"}
       }}
    ]}
  ],
  "resolve": {"scale": {"x": "independent", "y": "independent"}, "axis": {"x": "independent", "y": "independent"}}
}
]
}
